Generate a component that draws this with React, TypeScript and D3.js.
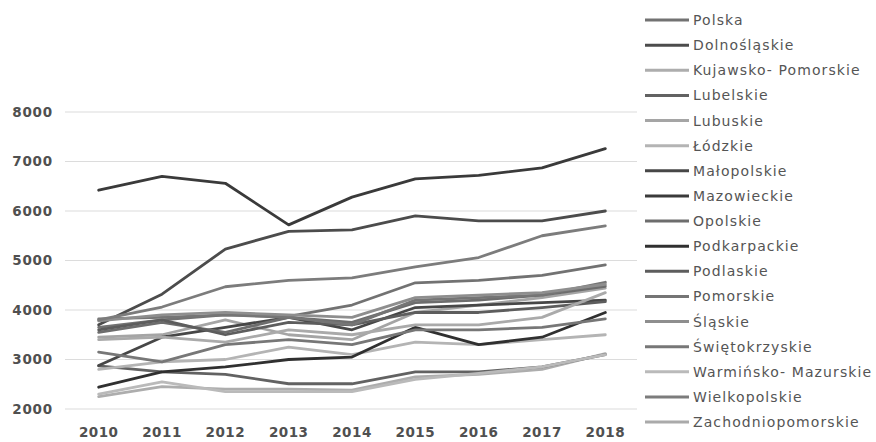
import React from "react";
import * as d3 from "d3";

const years = ["2010", "2011", "2012", "2013", "2014", "2015", "2016", "2017", "2018"];
const yTicks = [2000, 3000, 4000, 5000, 6000, 7000, 8000];

const regionNames = [
  "Polska",
  "Dolnośląskie",
  "Kujawsko- Pomorskie",
  "Lubelskie",
  "Lubuskie",
  "Łódzkie",
  "Małopolskie",
  "Mazowieckie",
  "Opolskie",
  "Podkarpackie",
  "Podlaskie",
  "Pomorskie",
  "Śląskie",
  "Świętokrzyskie",
  "Warmińsko- Mazurskie",
  "Wielkopolskie",
  "Zachodniopomorskie",
];

const polska = [3650, 3800, 3900, 3870, 4100, 4550, 4600, 4700, 4910];
const dolnoslaskie = [3700, 4320, 5230, 5590, 5620, 5900, 5800, 5800, 6000];
const kujawskoPomorskie = [2250, 2450, 2400, 2400, 2380, 2650, 2700, 2800, 3120];
const lubelskie = [2870, 2750, 2700, 2510, 2510, 2750, 2750, 2850, 3100];
const lubuskie = [3450, 3500, 3800, 3500, 3400, 3950, 4100, 4250, 4440];
const lodzkie = [2800, 2950, 3000, 3250, 3100, 3350, 3300, 3400, 3500];
const malopolskie = [2880, 3450, 3650, 3850, 3600, 4050, 4100, 4150, 4200];
const mazowieckie = [6420, 6700, 6560, 5720, 6280, 6650, 6720, 6870, 7260];
const opolskie = [3550, 3750, 3550, 3850, 3750, 4150, 4200, 4300, 4480];
const podkarpackie = [2440, 2750, 2850, 3000, 3050, 3650, 3300, 3450, 3950];
const podlaskie = [3600, 3800, 3500, 3750, 3700, 3950, 3950, 4050, 4170];
const pomorskie = [3820, 3850, 3900, 3850, 3700, 4200, 4250, 4300, 4560];
const slaskie = [3780, 3900, 3950, 3900, 3850, 4250, 4300, 4350, 4520];
const swietokrzyskie = [3150, 2950, 3300, 3400, 3300, 3600, 3600, 3650, 3820];
const warminskoMazurskie = [2300, 2550, 2350, 2350, 2350, 2600, 2720, 2850, 3100];
const wielkopolskie = [3800, 4060, 4470, 4600, 4650, 4870, 5060, 5500, 5700];
const zachodniopomorskie = [3400, 3450, 3350, 3600, 3500, 3700, 3700, 3850, 4350];

const seriesValues = [
  polska, dolnoslaskie, kujawskoPomorskie, lubelskie, lubuskie, lodzkie, malopolskie,
  mazowieckie, opolskie, podkarpackie, podlaskie, pomorskie, slaskie, swietokrzyskie,
  warminskoMazurskie, wielkopolskie, zachodniopomorskie,
];

const seriesColors = [
  "#727272", "#4c4c4c", "#adadad", "#626262", "#a5a5a5", "#b4b4b4", "#474747",
  "#3a3a3a", "#6d6d6d", "#303030", "#5d5d5d", "#757575", "#8e8e8e", "#777777",
  "#bababa", "#7c7c7c", "#aaaaaa",
];

export default function App() {
  const W = 876;
  const H = 442;
  const x = d3.scaleBand<string>().domain(years).range([67, 637]);
  const cx = (yr: string) => (x(yr) as number) + x.bandwidth() / 2;
  const y = d3.scaleLinear().domain([2000, 8000]).range([409, 112]);
  const line = d3
    .line<number>()
    .x((_, i) => cx(years[i]))
    .y((v) => y(v));

  const legendY = d3.scaleLinear().domain([0, regionNames.length - 1]).range([20, 422]);
  const font = "'DejaVu Sans', sans-serif";

  return (
    <svg width={W} height={H} style={{ position: "absolute", left: 0, top: 0, background: "#fff" }}>
      <rect width={W} height={H} fill="#fff" />
      {yTicks.map((t) => (
        <g key={t}>
          <line x1={65} x2={637} y1={y(t)} y2={y(t)} stroke="#dcdcdc" strokeWidth={1.2} />
          <text
            x={53}
            y={y(t)}
            dy="0.36em"
            textAnchor="end"
            fontFamily={font}
            fontWeight="bold"
            fontSize={13.5}
            letterSpacing={0.8}
            fill="#505050"
          >
            {t}
          </text>
        </g>
      ))}
      {years.map((yr) => (
        <text
          key={yr}
          x={cx(yr)}
          y={437}
          textAnchor="middle"
          fontFamily={font}
          fontWeight="bold"
          fontSize={13.5}
          letterSpacing={0.5}
          fill="#505050"
        >
          {yr}
        </text>
      ))}
      {seriesValues.map((vals, i) => (
        <path
          key={regionNames[i]}
          d={line(vals) || ""}
          fill="none"
          stroke={seriesColors[i]}
          strokeWidth={2.8}
          strokeLinejoin="round"
          strokeLinecap="round"
        />
      ))}
      {regionNames.map((name, i) => (
        <g key={name} transform={`translate(0,${legendY(i)})`}>
          <line x1={645} x2={689} y1={0} y2={0} stroke={seriesColors[i]} strokeWidth={3} />
          <text
            x={693}
            y={0}
            dy="0.36em"
            fontFamily={font}
            fontSize={14}
            letterSpacing={1.1}
            fill="#555"
          >
            {name}
          </text>
        </g>
      ))}
    </svg>
  );
}
